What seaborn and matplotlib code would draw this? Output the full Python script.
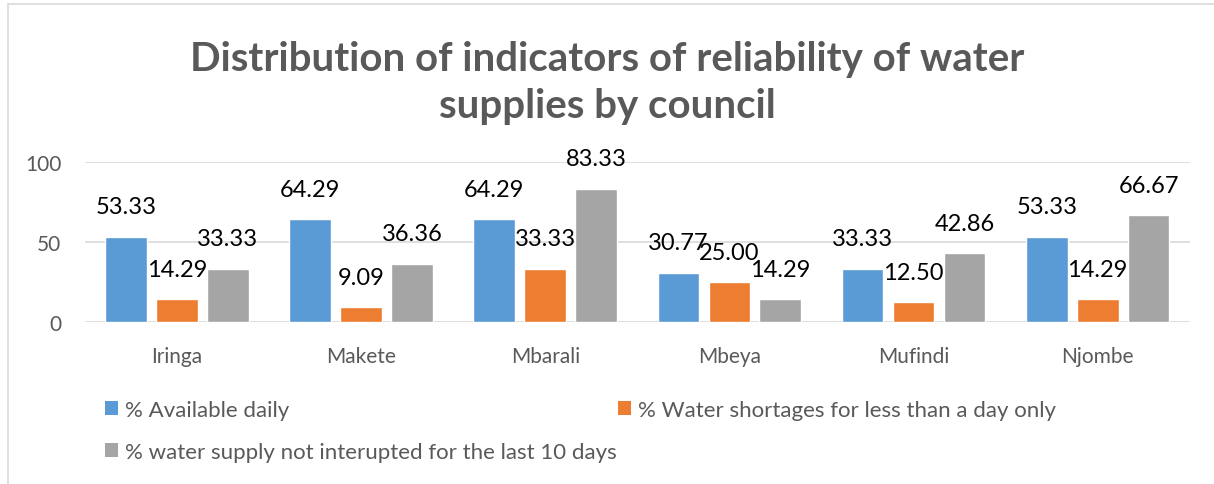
import matplotlib
matplotlib.use("Agg")
import matplotlib.pyplot as plt
import seaborn as sns
import pandas as pd
from matplotlib.patches import Rectangle, Patch

councils = ["Iringa", "Makete", "Mbarali", "Mbeya", "Mufindi", "Njombe"]
available_daily = [53.33, 64.29, 64.29, 30.77, 33.33, 53.33]
shortages_less_day = [14.29, 9.09, 33.33, 25.00, 12.50, 14.29]
not_interrupted = [33.33, 36.36, 83.33, 14.29, 42.86, 66.67]
series_names = ["% Available daily",
                "% Water shortages for less than a day only",
                "% water supply not interupted for the last 10 days"]
colors = ["#5B9BD5", "#ED7D31", "#A5A5A5"]

rows = []
for name, vals in zip(series_names, [available_daily, shortages_less_day, not_interrupted]):
    for c, v in zip(councils, vals):
        rows.append({"council": c, "series": name, "value": v})
df = pd.DataFrame(rows)

sns.set_theme(style="white")
plt.rcParams['font.family'] = ['Lato', 'DejaVu Sans']

fig = plt.figure(figsize=(12.14, 4.85), dpi=100)
ax = fig.add_axes([0.070, 0.334, 0.910, 0.330])

sns.barplot(data=df, x="council", y="value", hue="series", palette=colors,
            width=0.83, gap=0.18, ax=ax, legend=False, saturation=1)

ax.set_ylim(0, 100)
ax.set_yticks([0, 50, 100])
ax.set_xlim(-0.5, len(councils) - 0.5)
ax.yaxis.grid(True, color="#D9D9D9", linewidth=1.2)
ax.set_axisbelow(True)
for s in ax.spines.values():
    s.set_visible(False)
ax.set_xlabel("")
ax.set_ylabel("")
ax.tick_params(axis="both", length=0, labelsize=15, labelcolor="#595959")
ax.tick_params(axis="x", pad=17)
ax.tick_params(axis="y", pad=17)

for cont in ax.containers:
    for bar in cont:
        h = bar.get_height()
        ax.annotate(f"{h:.2f}", (bar.get_x() + bar.get_width() / 2, h),
                    xytext=(0, 14), textcoords="offset points",
                    ha="center", va="bottom", fontsize=17, color="black",
                    annotation_clip=False)

fig.suptitle("Distribution of indicators of reliability of water\nsupplies by council",
             y=0.915, fontsize=29, fontweight="bold", color="#595959", linespacing=1.33)

handles = [Patch(facecolor=c, edgecolor="none") for c in colors]
order = [0, 2, 1]
fig.legend([handles[i] for i in order], [series_names[i] for i in order],
           loc="upper left", bbox_to_anchor=(0.070, 0.215), ncol=2, frameon=False,
           fontsize=16, labelcolor="#595959", handlelength=0.6, handleheight=0.6,
           handletextpad=0.3, columnspacing=0.05, labelspacing=1.0)

fig.patches.append(Rectangle((8 / 1214, -0.1), 1.2, 1.1 - 5 / 485, transform=fig.transFigure,
                             fill=False, edgecolor="#D9D9D9", linewidth=1.2))

fig.savefig("out.png", dpi=100)
